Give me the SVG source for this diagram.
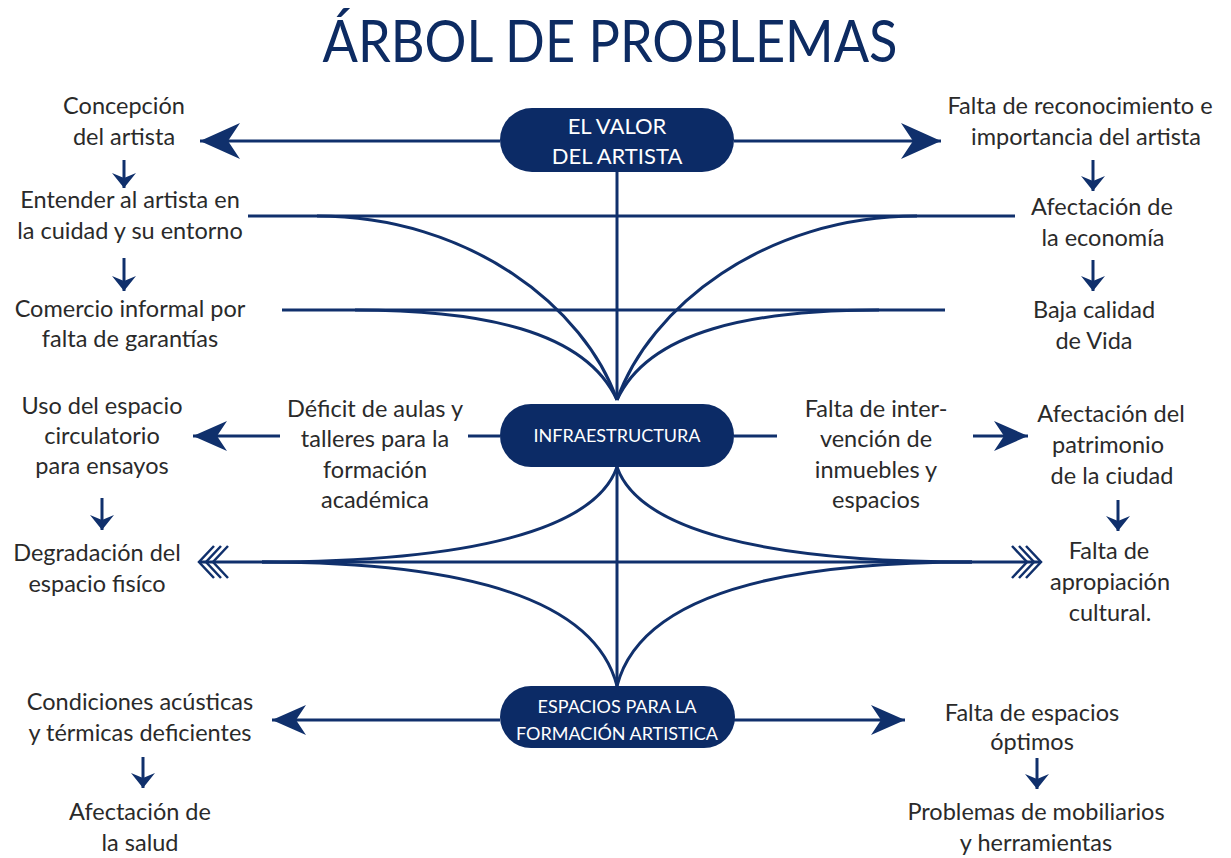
<svg xmlns="http://www.w3.org/2000/svg" width="1231" height="858" viewBox="0 0 1231 858">
<style>
.lbl{font-family:Lato,"Open Sans","Liberation Sans",sans-serif;font-size:23.5px;fill:#2a2a2a;text-anchor:middle}
.nt{font-family:Lato,"Open Sans","Liberation Sans",sans-serif;fill:#ffffff;text-anchor:middle}
.pill{fill:#0c2b66}
.ln{stroke:#10306c;stroke-width:3;fill:none}
.chev{stroke:#10306c;stroke-width:2.5;fill:none}
.ttl{font-family:Lato,"Open Sans","Liberation Sans",sans-serif;font-size:58px;fill:#0d2b62;text-anchor:middle}
</style>
<defs>
<marker id="big" markerUnits="userSpaceOnUse" markerWidth="44" markerHeight="40" viewBox="-42 -20 44 40" refX="0" refY="0" orient="auto">
<path d="M0,0 L-40,-18 L-28,0 L-40,18 Z" fill="#10306c"/>
</marker>
<marker id="mid" markerUnits="userSpaceOnUse" markerWidth="38" markerHeight="34" viewBox="-36 -17 38 34" refX="0" refY="0" orient="auto">
<path d="M0,0 L-34,-15 L-24,0 L-34,15 Z" fill="#10306c"/>
</marker>
<marker id="sm" markerUnits="userSpaceOnUse" markerWidth="20" markerHeight="28" viewBox="-18 -14 20 28" refX="0" refY="0" orient="auto">
<path d="M0,0 L-15,-12 L-10,0 L-15,12 Z" fill="#10306c"/>
</marker>
</defs>
<rect width="1231" height="858" fill="#ffffff"/>
<text class="ttl" x="610" y="62" textLength="575" lengthAdjust="spacingAndGlyphs">ÁRBOL DE PROBLEMAS</text>

<g id="connectors">
<line class="ln" x1="500" y1="141" x2="200" y2="141" marker-end="url(#big)"/>
<line class="ln" x1="734" y1="141" x2="941" y2="141" marker-end="url(#big)"/>
<line class="ln" x1="617" y1="172" x2="617" y2="400"/>
<line class="ln" x1="248" y1="216" x2="1015" y2="216"/>
<line class="ln" x1="282" y1="310" x2="945" y2="310"/>
<path class="ln" d="M317,216 C470,216 585,308 617,400"/>
<path class="ln" d="M917,216 C764,216 649,308 617,400"/>
<path class="ln" d="M355,310 C480,310 585,330 617,400"/>
<path class="ln" d="M879,310 C754,310 649,330 617,400"/>
<line class="ln" x1="500" y1="436" x2="468" y2="436"/>
<line class="ln" x1="734" y1="436" x2="777" y2="436"/>
<line class="ln" x1="280" y1="436" x2="193" y2="436" marker-end="url(#mid)"/>
<line class="ln" x1="973" y1="436" x2="1028" y2="436" marker-end="url(#mid)"/>
<line class="ln" x1="617" y1="467" x2="617" y2="686"/>
<line class="ln" x1="200" y1="562" x2="1040" y2="562"/>
<path class="ln" d="M617,467 C595,530 470,562 262,562"/>
<path class="ln" d="M617,467 C639,530 764,562 972,562"/>
<path class="ln" d="M262,562 C470,562 595,600 617,686"/>
<path class="ln" d="M972,562 C764,562 639,600 617,686"/>
<path class="chev" d="M214,546 L199,562 L214,578 M221,546 L206,562 L221,578 M228,546 L213,562 L228,578"/>
<path class="chev" d="M1026,546 L1041,562 L1026,578 M1019,546 L1034,562 L1019,578 M1012,546 L1027,562 L1012,578"/>
<line class="ln" x1="500" y1="720" x2="272" y2="720" marker-end="url(#mid)"/>
<line class="ln" x1="734" y1="720" x2="905" y2="720" marker-end="url(#mid)"/>
<line class="ln" x1="124" y1="160" x2="124" y2="188" marker-end="url(#sm)"/>
<line class="ln" x1="124" y1="258" x2="124" y2="291" marker-end="url(#sm)"/>
<line class="ln" x1="1093" y1="160" x2="1093" y2="191" marker-end="url(#sm)"/>
<line class="ln" x1="1093" y1="260" x2="1093" y2="291" marker-end="url(#sm)"/>
<line class="ln" x1="102" y1="498" x2="102" y2="530" marker-end="url(#sm)"/>
<line class="ln" x1="1118" y1="500" x2="1118" y2="531" marker-end="url(#sm)"/>
<line class="ln" x1="143" y1="757" x2="143" y2="788" marker-end="url(#sm)"/>
<line class="ln" x1="1037" y1="758" x2="1037" y2="789" marker-end="url(#sm)"/>
</g>

<g id="node-valor">
<rect class="pill" x="500" y="108" width="234" height="64" rx="32"/>
<text class="nt" x="617" y="134" font-size="22">EL VALOR</text>
<text class="nt" x="617" y="164" font-size="22">DEL ARTISTA</text>
</g>
<g id="node-infra">
<rect class="pill" x="500" y="404" width="234" height="63" rx="31"/>
<text class="nt" x="617" y="442" font-size="18">INFRAESTRUCTURA</text>
</g>
<g id="node-espacios">
<rect class="pill" x="500" y="686" width="235" height="62" rx="31"/>
<text class="nt" x="617" y="713" font-size="18">ESPACIOS PARA LA</text>
<text class="nt" x="617" y="740" font-size="18">FORMACIÓN ARTISTICA</text>
</g>

<g id="t-concepcion"><text class="lbl" x="124" y="114">Concepción</text><text class="lbl" x="124" y="145">del artista</text></g>
<g id="t-entender"><text class="lbl" x="130" y="208">Entender al artista en</text><text class="lbl" x="130" y="239">la cuidad y su entorno</text></g>
<g id="t-comercio"><text class="lbl" x="130" y="317">Comercio informal por</text><text class="lbl" x="130" y="347">falta de garantías</text></g>
<g id="t-falta-rec"><text class="lbl" x="1080" y="114">Falta de reconocimiento e</text><text class="lbl" x="1086" y="145">importancia del artista</text></g>
<g id="t-afect-eco"><text class="lbl" x="1102" y="215">Afectación de</text><text class="lbl" x="1103" y="246">la economía</text></g>
<g id="t-baja"><text class="lbl" x="1094" y="318">Baja calidad</text><text class="lbl" x="1094" y="349">de Vida</text></g>
<g id="t-deficit"><text class="lbl" x="375" y="417">Déficit de aulas y</text><text class="lbl" x="375" y="447">talleres para la</text><text class="lbl" x="375" y="478">formación</text><text class="lbl" x="375" y="508">académica</text></g>
<g id="t-interv"><text class="lbl" x="876" y="417">Falta de inter-</text><text class="lbl" x="876" y="447">vención de</text><text class="lbl" x="876" y="478">inmuebles y</text><text class="lbl" x="876" y="508">espacios</text></g>
<g id="t-uso"><text class="lbl" x="102" y="414">Uso del espacio</text><text class="lbl" x="102" y="444">circulatorio</text><text class="lbl" x="102" y="474">para ensayos</text></g>
<g id="t-degrad"><text class="lbl" x="97" y="561">Degradación del</text><text class="lbl" x="97" y="592">espacio fisíco</text></g>
<g id="t-patrim"><text class="lbl" x="1111" y="422">Afectación del</text><text class="lbl" x="1108" y="453">patrimonio</text><text class="lbl" x="1112" y="484">de la ciudad</text></g>
<g id="t-apropia"><text class="lbl" x="1109" y="559">Falta de</text><text class="lbl" x="1110" y="590">apropiación</text><text class="lbl" x="1110" y="621">cultural.</text></g>
<g id="t-condic"><text class="lbl" x="140" y="710">Condiciones acústicas</text><text class="lbl" x="140" y="741">y térmicas deficientes</text></g>
<g id="t-salud"><text class="lbl" x="140" y="820">Afectación de</text><text class="lbl" x="140" y="851">la salud</text></g>
<g id="t-optimos"><text class="lbl" x="1032" y="721">Falta de espacios</text><text class="lbl" x="1032" y="750">óptimos</text></g>
<g id="t-mobil"><text class="lbl" x="1036" y="820">Problemas de mobiliarios</text><text class="lbl" x="1036" y="851">y herramientas</text></g>
</svg>
